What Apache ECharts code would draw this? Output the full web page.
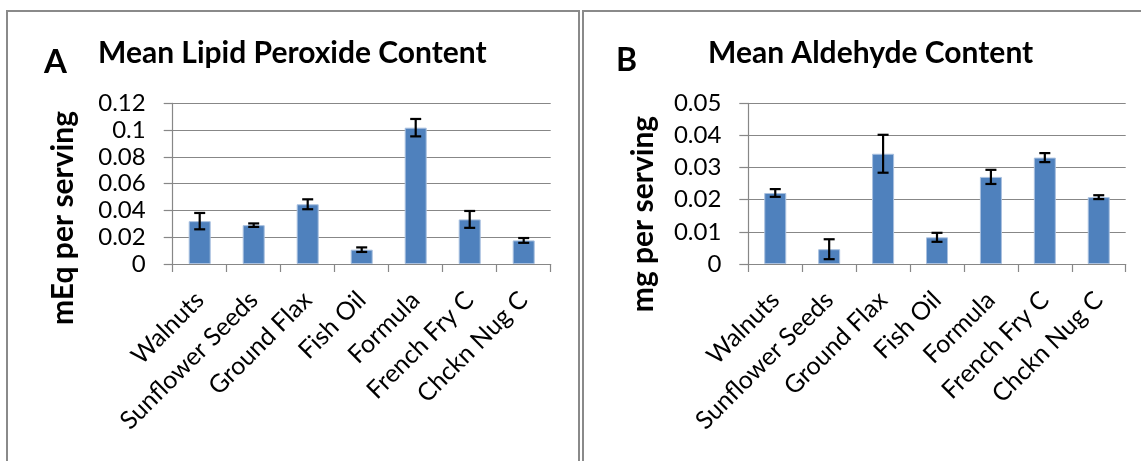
<!DOCTYPE html>
<html>
<head>
<meta charset="utf-8">
<script src="https://cdn.jsdelivr.net/npm/echarts@6/dist/echarts.min.js"></script>
<style>
  html, body { margin: 0; padding: 0; background: #fff; }
  #chart { width: 1141px; height: 461px; }
</style>
</head>
<body>
<div id="chart"></div>
<script>
// Food samples shared by both panels
const categories = ['Walnuts', 'Sunflower Seeds', 'Ground Flax', 'Fish Oil', 'Formula', 'French Fry C', 'Chckn Nug C'];

// Panel A: mean lipid peroxide content (mEq per serving) and its error
const peroxideMeans = [0.032, 0.029, 0.0446, 0.0107, 0.1018, 0.0333, 0.0176];
const peroxideErrors = [0.0061, 0.0013, 0.0037, 0.0017, 0.0065, 0.0063, 0.0018];

// Panel B: mean aldehyde content (mg per serving) and its error
const aldehydeMeans = [0.0221, 0.0046, 0.0343, 0.0083, 0.0271, 0.0331, 0.0208];
const aldehydeErrors = [0.0012, 0.0031, 0.0059, 0.0014, 0.0022, 0.0014, 0.0006];

// Axis tick settings
const peroxideTicks = { min: 0, max: 0.12, interval: 0.02 };
const aldehydeTicks = { min: 0, max: 0.05, interval: 0.01 };

const FONT = 'Lato, "Open Sans", sans-serif';
const GRID_GRAY = '#878787';
const BAR_BLUE = '#4F81BD';
const FRAME_GRAY = '#8a8a8a';

function errorData(means, errs) {
  return means.map((m, i) => [i, m - errs[i], m + errs[i]]);
}

function renderErrorBar(params, api) {
  const x = api.value(0);
  const lo = api.coord([x, api.value(1)]);
  const hi = api.coord([x, api.value(2)]);
  const half = 5.5;
  const style = { stroke: '#000', lineWidth: 2.2, fill: null };
  return {
    type: 'group',
    children: [
      { type: 'line', shape: { x1: lo[0], y1: lo[1], x2: hi[0], y2: hi[1] }, style },
      { type: 'line', shape: { x1: hi[0] - half, y1: hi[1], x2: hi[0] + half, y2: hi[1] }, style },
      { type: 'line', shape: { x1: lo[0] - half, y1: lo[1], x2: lo[0] + half, y2: lo[1] }, style }
    ]
  };
}

function xAxisFor(gridIndex) {
  return {
    type: 'category',
    gridIndex,
    data: categories,
    boundaryGap: true,
    axisLine: { lineStyle: { color: GRID_GRAY, width: 1.2 } },
    axisTick: { show: true, length: 8, lineStyle: { color: GRID_GRAY, width: 1.2 } },
    axisLabel: { rotate: 45, margin: 32, padding: [24, 0, 0, 0], interval: 0, color: '#000',
                 fontFamily: FONT, fontSize: 25 }
  };
}

function yAxisFor(gridIndex, ticks) {
  return {
    type: 'value',
    gridIndex,
    min: ticks.min,
    max: ticks.max,
    interval: ticks.interval,
    axisLine: { show: true, lineStyle: { color: GRID_GRAY, width: 1.2 } },
    axisTick: { show: true, length: 9, lineStyle: { color: GRID_GRAY, width: 1.2 } },
    splitLine: { show: true, lineStyle: { color: GRID_GRAY, width: 1.2 } },
    axisLabel: { margin: 27, color: '#000', fontFamily: FONT, fontSize: 24 }
  };
}

const chart = echarts.init(document.getElementById('chart'), null, { renderer: 'canvas' });

chart.setOption({
  backgroundColor: '#fff',
  animation: false,
  title: [
    { text: 'Mean Lipid Peroxide Content', left: 93, top: 33,
      textStyle: { fontFamily: FONT, fontWeight: 'bold', fontSize: 30, color: '#000' } },
    { text: 'Mean Aldehyde Content', left: 703, top: 33,
      textStyle: { fontFamily: FONT, fontWeight: 'bold', fontSize: 30, color: '#000' } }
  ],
  grid: [
    { left: 172.7, right: 1141 - 550.7, top: 103.3, bottom: 461 - 264, containLabel: false },
    { left: 748.3, right: 1141 - 1125.7, top: 103.3, bottom: 461 - 264, containLabel: false }
  ],
  xAxis: [xAxisFor(0), xAxisFor(1)],
  yAxis: [yAxisFor(0, peroxideTicks), yAxisFor(1, aldehydeTicks)],
  series: [
    { type: 'bar', xAxisIndex: 0, yAxisIndex: 0, data: peroxideMeans, barWidth: 22,
      itemStyle: { color: BAR_BLUE, borderColor: '#a9c0df', borderWidth: 1 } },
    { type: 'custom', xAxisIndex: 0, yAxisIndex: 0, data: errorData(peroxideMeans, peroxideErrors),
      renderItem: renderErrorBar, z: 5 },
    { type: 'bar', xAxisIndex: 1, yAxisIndex: 1, data: aldehydeMeans, barWidth: 22,
      itemStyle: { color: BAR_BLUE, borderColor: '#a9c0df', borderWidth: 1 } },
    { type: 'custom', xAxisIndex: 1, yAxisIndex: 1, data: errorData(aldehydeMeans, aldehydeErrors),
      renderItem: renderErrorBar, z: 5 }
  ],
  graphic: [
    // panel frames
    { type: 'polyline', shape: { points: [[7, 461], [7, 11], [579, 11], [579, 461]] },
      style: { stroke: FRAME_GRAY, lineWidth: 2, fill: null }, silent: true },
    { type: 'polyline', shape: { points: [[583, 461], [583, 11], [1141, 11]] },
      style: { stroke: FRAME_GRAY, lineWidth: 2, fill: null }, silent: true },
    // panel letters
    { type: 'text', x: 44, y: 46,
      style: { text: 'A', fontFamily: FONT, fontWeight: 'bold', fontSize: 33, fill: '#000' } },
    { type: 'text', x: 616, y: 45,
      style: { text: 'B', fontFamily: FONT, fontWeight: 'bold', fontSize: 32, fill: '#000' } },
    // y-axis names
    { type: 'text', x: 63, y: 218, rotation: Math.PI / 2,
      style: { text: 'mEq per serving', fontFamily: FONT, fontWeight: 'bold', fontSize: 30, fill: '#000',
               align: 'center', verticalAlign: 'middle' } },
    { type: 'text', x: 643, y: 214, rotation: Math.PI / 2,
      style: { text: 'mg per serving', fontFamily: FONT, fontWeight: 'bold', fontSize: 30, fill: '#000',
               align: 'center', verticalAlign: 'middle' } }
  ]
});
</script>
</body>
</html>
